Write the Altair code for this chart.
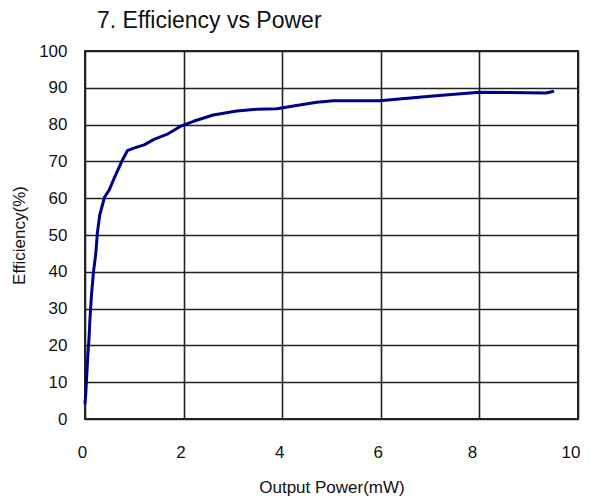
import altair as alt
import pandas as pd

power_mw = [0.0, 0.014, 0.034, 0.06, 0.08, 0.10, 0.13, 0.17, 0.22, 0.25, 0.30,
            0.40, 0.49, 0.62, 0.76, 0.86, 0.99, 1.20, 1.40, 1.67, 1.93, 2.20,
            2.60, 3.08, 3.48, 3.89, 4.29, 4.70, 5.04, 5.98, 7.0, 8.0, 9.35, 9.49]
efficiency = [4.3, 6.5, 11.5, 17.9, 21.5, 27.0, 33.4, 39.7, 45.1, 50.5, 55.5,
              60.4, 62.2, 66.3, 70.4, 72.9, 73.6, 74.5, 76.0, 77.4, 79.5, 80.9,
              82.6, 83.7, 84.2, 84.3, 85.2, 86.1, 86.5, 86.5, 87.7, 88.8, 88.6, 89.0]
x_ticks = [0, 2, 4, 6, 8, 10]
y_ticks = [0, 10, 20, 30, 40, 50, 60, 70, 80, 90, 100]

df = pd.DataFrame({"power": power_mw, "eff": efficiency})

FONT = "Liberation Sans"

chart = alt.Chart(df).mark_line(
    color="#000088", strokeWidth=3, strokeJoin="round", strokeCap="round"
).encode(
    x=alt.X("power:Q", scale=alt.Scale(domain=[0, 10], nice=False),
            axis=alt.Axis(values=x_ticks, title="Output Power(mW)", grid=True,
                          ticks=False, domain=False, labelPadding=25,
                          labelOffset={"condition": {"test": "datum.value >= 8",
                                                     "value": -7.5},
                                       "value": -3},
                          titlePadding=19, labelFontSize=17, titleFontSize=17,
                          titleFontWeight="normal", labelFlush=False)),
    y=alt.Y("eff:Q", scale=alt.Scale(domain=[0, 100], nice=False),
            axis=alt.Axis(values=y_ticks, title="Efficiency(%)", grid=True,
                          ticks=False, domain=False, labelPadding=18,
                          titlePadding=10, labelFontSize=17, titleFontSize=17,
                          titleFontWeight="normal")),
    order=alt.Order("power:Q"),
).properties(
    width=493,
    height=368,
    title=alt.TitleParams("7. Efficiency vs Power", anchor="start", frame="group",
                          dx=12, fontSize=23, fontWeight="normal", font=FONT,
                          color="#111", offset=9),
    autosize=alt.AutoSizeParams(type="none"),
    padding={"left": 77, "top": 43, "right": 3, "bottom": 80},
).configure_axis(
    labelFont=FONT, titleFont=FONT, labelColor="#111", titleColor="#111",
    gridColor="#222", gridWidth=1.6, gridOpacity=1,
).configure_view(
    stroke="#222", strokeWidth=2
)

chart.save("out.html", embed_options={"renderer": "svg", "actions": False})
